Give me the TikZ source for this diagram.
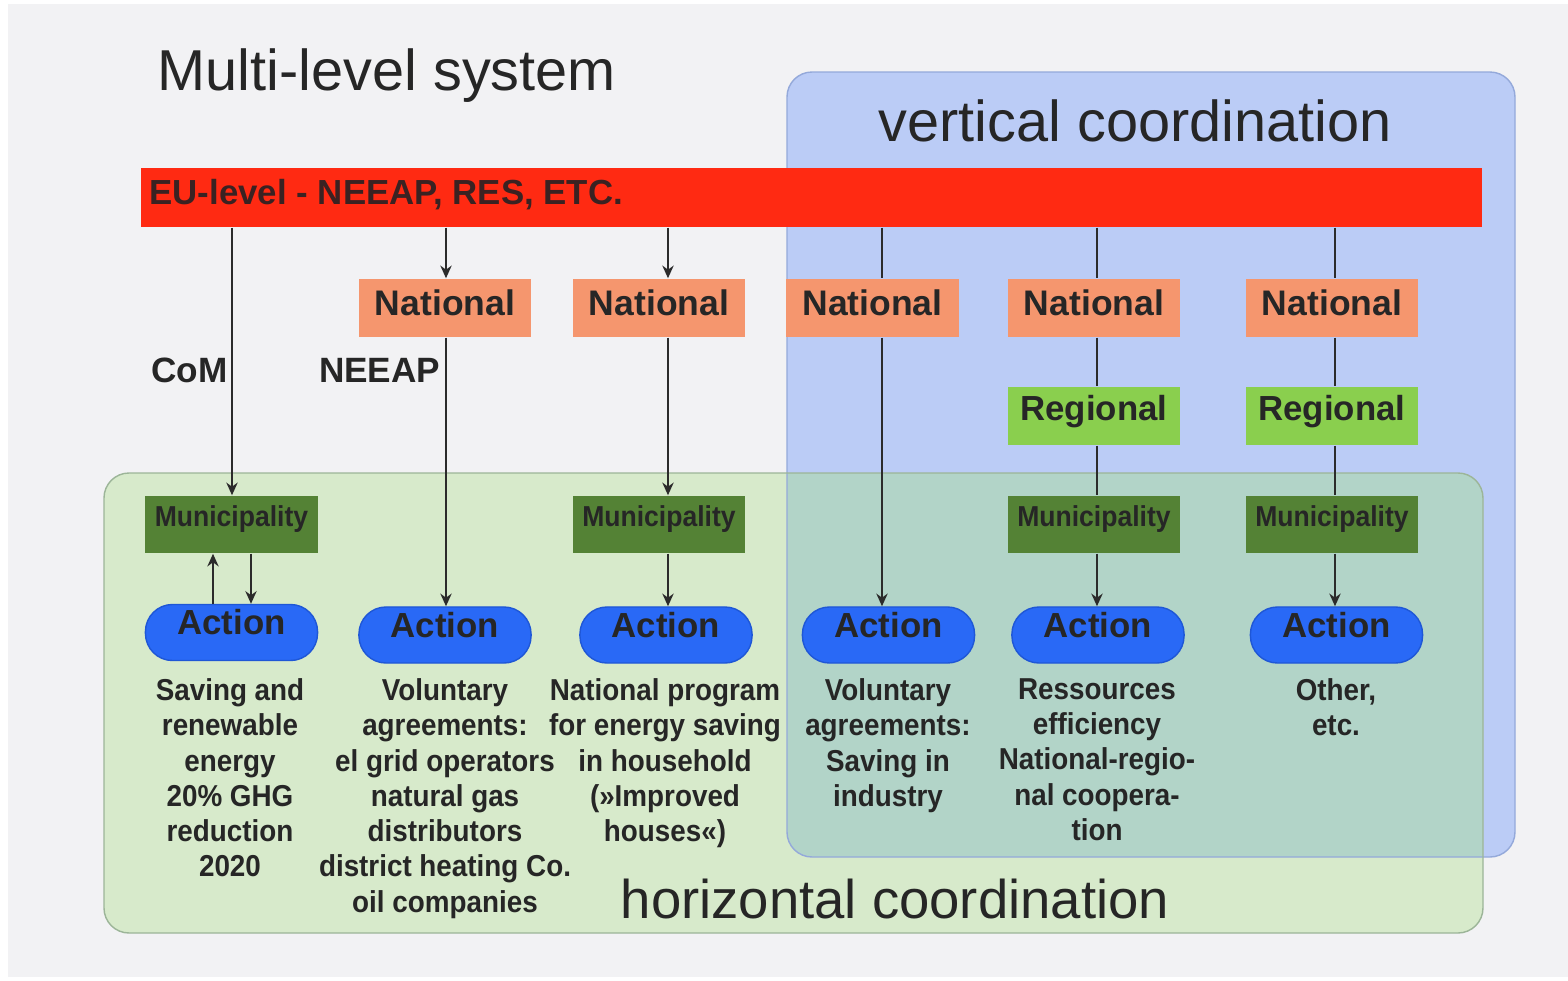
\documentclass[tikz,border=0pt]{standalone}
\usepackage{fontspec}
\setmainfont{Liberation Sans}
\newfontfamily\descfont{Liberation Sans}[FakeStretch=0.92]
\usetikzlibrary{arrows.meta,calc}
\definecolor{bgc}{HTML}{F2F2F4}
\definecolor{vbox}{HTML}{BBCCF6}
\definecolor{vboxline}{HTML}{94A9DA}
\definecolor{hbox}{HTML}{D7EACB}
\definecolor{hboxline}{HTML}{9CB598}
\definecolor{ovl}{HTML}{B2D4C8}
\definecolor{eured}{HTML}{FF2A12}
\definecolor{eutxt}{HTML}{3A2222}
\definecolor{natc}{HTML}{F5966E}
\definecolor{regc}{HTML}{8ACF4E}
\definecolor{munc}{HTML}{548235}
\definecolor{actc}{HTML}{2969F6}
\definecolor{actline}{HTML}{1F57D6}
\definecolor{txt}{HTML}{262626}
\definecolor{arrc}{HTML}{2B2B2B}
\newcommand\shiftbase[2]{\raisebox{#1}[0pt][0pt]{#2}}
\begin{document}
\begin{tikzpicture}[x=0.01cm,y=-0.01cm,
  box/.style={rectangle, inner sep=0, minimum width=1.72cm, minimum height=0.58cm, text=txt},
  natbox/.style={box, fill=natc, font=\bfseries\fontsize{10.1}{12}\selectfont},
  regbox/.style={box, fill=regc, font=\bfseries\fontsize{9.9}{12}\selectfont},
  munbox/.style={box, fill=munc, minimum height=0.57cm, font=\descfont\bfseries\fontsize{8.2}{10}\selectfont},
  actbox/.style={box, fill=actc, draw=actline, line width=0.4pt, minimum height=0.56cm, rounded corners=0.27cm, font=\bfseries\fontsize{9.9}{12}\selectfont},
  desc/.style={anchor=north, inner sep=0, align=center, text=txt, font=\descfont\bfseries\fontsize{8.6}{10.02}\selectfont},
  lbl/.style={inner sep=0, text=txt, font=\bfseries\fontsize{10}{12}\selectfont},
  big/.style={anchor=base west, inner sep=0, text=txt},
  conn/.style={draw=arrc, line width=0.85pt},
  arr/.style={conn, -{Stealth[length=3.6pt, width=3.2pt]}}
]
\useasboundingbox (0,0) rectangle (1568,981);
\fill[white] (0,0) rectangle (1568,981);
\fill[bgc] (8,4) rectangle (1568,977);

% coordination areas
\fill[vbox] (787,72) [rounded corners=0.25cm] rectangle (1515,857);
\fill[hbox] (104,473) [rounded corners=0.25cm] rectangle (1483,933);
\begin{scope}
  \clip[rounded corners=0.25cm] (787,72) rectangle (1515,857);
  \fill[ovl,rounded corners=0.25cm] (104,473) rectangle (1483,933);
\end{scope}
\draw[vboxline, line width=0.4pt, rounded corners=0.25cm] (787,72) rectangle (1515,857);
\draw[hboxline, line width=0.4pt, rounded corners=0.25cm] (104,473) rectangle (1483,933);

% titles
\node[big, font=\fontsize{16.4}{19}\selectfont] (title) at (157,90) {Multi-level system};
\node[big, font=\fontsize{16.4}{19}\selectfont] (vert) at (878,141) {vertical coordination};
\node[big, font=\fontsize{15.5}{18}\selectfont] (horiz) at (620,918) {horizontal coordination};

% EU bar
\node[rectangle, fill=eured, inner sep=0, minimum width=13.41cm, minimum height=0.59cm, text=eutxt,
  font=\bfseries\fontsize{9.9}{12}\selectfont] (eu) at (811.5,197.5)
  {\shiftbase{-2.1pt}{\makebox[13.23cm][l]{EU-level - NEEAP, RES, ETC.}}};

% column x positions
\coordinate (c1) at (232,0);
\coordinate (u1) at (213,0);
\coordinate (d1) at (251,0);
\coordinate (c2) at (446,0);
\coordinate (c3) at (668,0);
\coordinate (c4) at (882,0);
\coordinate (c5) at (1097,0);
\coordinate (c6) at (1335,0);

% National
\node[natbox] (nat1) at (445,308) {\shiftbase{-2pt}{National}};
\node[natbox] (nat2) at (659,308) {\shiftbase{-2pt}{National}};
\node[natbox] (nat3) at (872.5,308) {\shiftbase{-2pt}{National}};
\node[natbox] (nat4) at (1094,308) {\shiftbase{-2pt}{National}};
\node[natbox] (nat5) at (1332,308) {\shiftbase{-2pt}{National}};

% Regional
\node[regbox] (reg1) at (1094,416) {\shiftbase{-1.4pt}{Regional}};
\node[regbox] (reg2) at (1332,416) {\shiftbase{-1.4pt}{Regional}};

% Municipality
\node[munbox] (mun1) at (231.5,524.5) {\shiftbase{-0.7pt}{Municipality}};
\node[munbox] (mun2) at (659,524.5) {\shiftbase{-0.7pt}{Municipality}};
\node[munbox] (mun3) at (1094,524.5) {\shiftbase{-0.7pt}{Municipality}};
\node[munbox] (mun4) at (1332,524.5) {\shiftbase{-0.7pt}{Municipality}};

% Action
\node[actbox] (act1) at (231.5,632.5) {\shiftbase{-0.6pt}{Action}};
\node[actbox] (act2) at (445,635) {\shiftbase{-0.6pt}{Action}};
\node[actbox] (act3) at (666,635) {\shiftbase{-0.6pt}{Action}};
\node[actbox] (act4) at (888.5,635) {\shiftbase{-0.6pt}{Action}};
\node[actbox] (act5) at (1098,635) {\shiftbase{-0.6pt}{Action}};
\node[actbox] (act6) at (1336.5,635) {\shiftbase{-0.6pt}{Action}};

% side labels
\node[lbl, anchor=base east] (com) at (228,382) {CoM};
\node[lbl, anchor=base east] (neeap) at (441,382) {NEEAP};

% descriptions
\node[desc] (t1) at (230,678) {Saving and\\renewable\\energy\\20\% GHG\\reduction\\2020};
\node[desc] (t2) at (445,678) {Voluntary\\agreements:\\el grid operators\\natural gas\\distributors\\district heating Co.\\oil companies};
\node[desc] (t3) at (665,678) {National program\\for energy saving\\in household\\(»Improved\\houses«)};
\node[desc] (t4) at (888,678) {Voluntary\\agreements:\\Saving in\\industry};
\node[desc] (t5) at (1097,678) {Ressources\\efficiency\\National-regio-\\nal coopera-\\tion};
\node[desc] (t6) at (1336,678) {Other,\\etc.};

% connectors column 1
\draw[arr] (eu.south -| c1) -- (mun1.north -| c1);
\draw[arr] (act1.north -| u1) -- (mun1.south -| u1);
\draw[arr] (mun1.south -| d1) -- (act1.north -| d1);
% column 2
\draw[arr] (eu.south -| c2) -- (nat1.north -| c2);
\draw[arr] (nat1.south -| c2) -- (act2.north -| c2);
% column 3
\draw[arr] (eu.south -| c3) -- (nat2.north -| c3);
\draw[arr] (nat2.south -| c3) -- (mun2.north -| c3);
\draw[arr] (mun2.south -| c3) -- (act3.north -| c3);
% column 4
\draw[conn] (eu.south -| c4) -- (nat3.north -| c4);
\draw[arr] (nat3.south -| c4) -- (act4.north -| c4);
% column 5
\draw[conn] (eu.south -| c5) -- (nat4.north -| c5);
\draw[conn] (nat4.south -| c5) -- (reg1.north -| c5);
\draw[conn] (reg1.south -| c5) -- (mun3.north -| c5);
\draw[arr] (mun3.south -| c5) -- (act5.north -| c5);
% column 6
\draw[conn] (eu.south -| c6) -- (nat5.north -| c6);
\draw[conn] (nat5.south -| c6) -- (reg2.north -| c6);
\draw[conn] (reg2.south -| c6) -- (mun4.north -| c6);
\draw[arr] (mun4.south -| c6) -- (act6.north -| c6);
\end{tikzpicture}
\end{document}
